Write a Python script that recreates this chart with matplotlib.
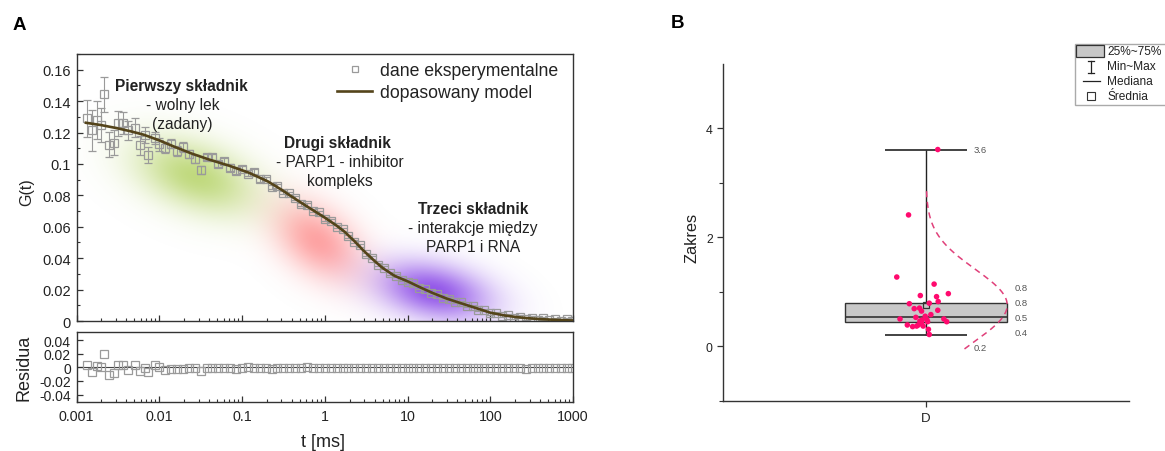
import numpy as np
import matplotlib
matplotlib.use("Agg")
import matplotlib.pyplot as plt
from matplotlib.patches import Rectangle
from matplotlib.lines import Line2D
from matplotlib.ticker import FixedLocator, FuncFormatter, LogLocator, NullFormatter, MultipleLocator

# ------------------------------------------------------------------ data A
t_data = [0.00133, 0.00155, 0.00179, 0.00198, 0.00217, 0.00247, 0.00286, 0.0032,
          0.00362, 0.00423, 0.0051, 0.00586, 0.00673, 0.00738, 0.0089, 0.0100,
          0.0118, 0.0139, 0.0164, 0.0193, 0.0228, 0.0268, 0.0316, 0.0373, 0.0439,
          0.0518, 0.0611, 0.072, 0.0848,
          0.1, 0.118, 0.139, 0.164, 0.193, 0.228, 0.268, 0.316, 0.373, 0.439,
          0.518, 0.611, 0.72, 0.848,
          1.0, 1.18, 1.39, 1.64, 1.93, 2.28, 2.68, 3.16, 3.73, 4.39, 5.18, 6.11,
          7.2, 8.48,
          10, 11.8, 13.9, 16.4, 19.3, 22.8, 26.8, 31.6, 37.3, 43.9, 51.8, 61.1,
          72, 84.8,
          100, 118, 139, 164, 193, 228, 268, 316, 373, 439, 518, 611, 720, 848,
          970]
G_data = [0.1290, 0.1215, 0.1280, 0.1247, 0.1443, 0.1123, 0.1135, 0.1258,
          0.1258, 0.1215, 0.1230, 0.1120, 0.1185, 0.1057, 0.1166, 0.1125,
          0.1104, 0.1129, 0.1083, 0.1108, 0.1063, 0.1030, 0.0960, 0.1044, 0.1042,
          0.1000, 0.1019, 0.0977, 0.0953,
          0.0970, 0.0936, 0.0950, 0.0902, 0.0905, 0.0854, 0.0862, 0.0818, 0.0812,
          0.0783, 0.0744, 0.0739, 0.0701, 0.0692,
          0.0649, 0.0638, 0.0600, 0.0583, 0.0540, 0.0505, 0.0481, 0.0425, 0.0402,
          0.0359, 0.0338, 0.0303, 0.0289, 0.0264,
          0.0248, 0.0240, 0.0212, 0.0204, 0.0177, 0.0172, 0.0147, 0.0143, 0.0121,
          0.0119, 0.0097, 0.0094, 0.0073, 0.0070,
          0.0048, 0.0051, 0.0034, 0.0037, 0.0022, 0.0028, 0.0014, 0.0021, 0.0008,
          0.0016, 0.0004, 0.0012, 0.0002, 0.0010,
          0.0003]
G_err = [0.012, 0.013, 0.012, 0.011, 0.011, 0.008, 0.008, 0.008,
         0.007, 0.006, 0.006, 0.006, 0.005, 0.005, 0.004, 0.004,
         0.0035, 0.003, 0.003, 0.003, 0.0025, 0.0025, 0.0025, 0.002, 0.002,
         0.002, 0.002, 0.002, 0.0018,
         0.0015, 0.0015, 0.0015, 0.0015, 0.0015, 0.0012, 0.0012, 0.0012, 0.0012,
         0.0012, 0.001, 0.001, 0.001, 0.001,
         0.001, 0.001, 0.001, 0.001, 0.001, 0.001, 0.001, 0.001, 0.001,
         0.001, 0.001, 0.001, 0.001, 0.001,
         0.0008, 0.0008, 0.0008, 0.0008, 0.0008, 0.0008, 0.0008, 0.0008, 0.0008,
         0.0008, 0.0008, 0.0008, 0.0008, 0.0008,
         0.0008, 0.0008, 0.0008, 0.0008, 0.0008, 0.0008, 0.0008, 0.0008, 0.0008,
         0.0008, 0.0008, 0.0008, 0.0008, 0.0008,
         0.0008]
resid = [0.0035, -0.0065, 0.0025, 0.0, 0.020, -0.0115, -0.0085, 0.004,
         0.004, -0.0035, 0.0035, -0.005, -0.0015, -0.0075, 0.004, 0.0,
         -0.0035, -0.002, -0.002, -0.003, -0.0015, -0.001, -0.005, -0.0015, -0.001,
         -0.0015, -0.0005, -0.001, -0.002,
         -0.0005, 0.0, -0.0005, -0.001, -0.0015, -0.002, -0.0015, -0.001, -0.0005,
         -0.001, -0.0005, 0.0, -0.0005, -0.001,
         -0.0005, -0.001, -0.0005, -0.001, -0.0005, -0.0005, -0.001, -0.0005, -0.0005,
         -0.001, -0.0005, -0.0005, -0.001, -0.0005,
         -0.001, -0.0005, -0.001, -0.0005, -0.0005, -0.001, -0.0005, -0.0005, -0.0005,
         -0.001, -0.0005, -0.0005, -0.0005, -0.001,
         -0.0005, -0.001, -0.0005, -0.0005, -0.001, -0.0005, -0.003, -0.001, -0.0005,
         -0.0005, -0.0005, -0.0005, -0.001, -0.0005,
         -0.0005]
t_fit = [0.0013, 0.002, 0.003, 0.0045, 0.0065, 0.01, 0.015, 0.0244, 0.04, 0.0708,
         0.12, 0.205, 0.3, 0.388, 0.6, 1.01, 1.4, 1.72, 2.3, 2.93, 4, 5, 7, 10,
         14, 20, 30, 42, 65, 100, 150, 207, 300, 436, 700, 1000]
G_fit = [0.1262, 0.1247, 0.1229, 0.1208, 0.1186, 0.1150, 0.1111, 0.1067, 0.1028,
         0.0988, 0.0945, 0.0889, 0.0836, 0.0796, 0.0732, 0.0657, 0.0606, 0.0570,
         0.0507, 0.0449, 0.0382, 0.0338, 0.0287, 0.0253, 0.0216, 0.0179, 0.0142,
         0.0117, 0.0085, 0.0053, 0.0035, 0.0025, 0.0017, 0.0011, 0.0006, 0.0003]

x_ticks_A = [0.001, 0.01, 0.1, 1, 10, 100, 1000]
legend_A = ["dane eksperymentalne", "dopasowany model"]
# annotation texts: (t, G, text, bold)
notes_A = [(0.0184, 0.150, "Pierwszy składnik", True),
           (0.019, 0.138, "- wolny lek", False),
           (0.019, 0.1255, "(zadany)", False),
           (1.41, 0.1138, "Drugi składnik", True),
           (1.5, 0.1017, "- PARP1 - inhibitor", False),
           (1.5, 0.0895, "kompleks", False),
           (62, 0.0716, "Trzeci składnik", True),
           (62, 0.0595, "- interakcje między", False),
           (62, 0.0473, "PARP1 i RNA", False)]
# coloured highlight blobs: (t, G) centre
blob_t = [0.027, 0.80, 20]
blob_G = [0.092, 0.051, 0.019]

# ------------------------------------------------------------------ data B
category_B = ["D"]
zakres_x = [1.029, 0.957, 0.928, 1.020, 1.055, 0.986, 1.026, 1.030, 0.959, 1.008,
            0.984, 0.971, 0.989, 1.029, 0.936, 1.044, 1.051, 1.002, 0.985, 0.989,
            0.981, 0.993, 0.977, 0.967, 0.954, 1.004, 1.006, 1.008, 0.998, 0.975,
            0.990, 1.012]
zakres_y = [3.61, 2.41, 1.27, 1.14, 0.965, 0.93, 0.91, 0.82, 0.78, 0.79,
            0.70, 0.69, 0.645, 0.66, 0.50, 0.50, 0.45, 0.49, 0.46, 0.42,
            0.39, 0.37, 0.37, 0.36, 0.39, 0.45, 0.31, 0.215, 0.55, 0.53,
            0.48, 0.58]
legend_B = ["25%~75%", "Min~Max", "Mediana", "Średnia"]

# ------------------------------------------------------------------ style
plt.rcParams['font.family'] = ['Liberation Sans', 'DejaVu Sans']
plt.rcParams['axes.unicode_minus'] = False

W, H = 1165, 452
fig = plt.figure(figsize=(W / 100, H / 100), dpi=100)


def rect(l, t, r, b):
    return [l / W, 1 - b / H, (r - l) / W, (b - t) / H]


AX_COL = '#333333'
SQ_COL = '#9a9a9a'
FIT_COL = '#54441a'
TXT_COL = '#222222'
MS = 5.6

# ------------------------------------------------------------------ panel A main
ax_bg = fig.add_axes(rect(76.5, 55, 573, 322), zorder=0)
ax = fig.add_axes(rect(76.5, 55, 573, 322), zorder=1)
ax.patch.set_visible(False)
ax.set_xscale('log')
ax.set_xlim(1e-3, 1e3)
ax.set_ylim(0, 0.17)

# soft coloured blobs (drawn as an image behind the axes)
bb = ax.get_window_extent()
nx, ny = int(round(bb.width)), int(round(bb.height))
X, Y = np.meshgrid(np.arange(nx) + 0.5 + bb.x0, np.arange(ny) + 0.5 + bb.y0)
blob_style = [((0.66, 0.80, 0.30), 0.72, 44, 23, -20),
              ((1.00, 0.42, 0.42), 0.62, 34, 22, -38),
              ((0.50, 0.22, 0.90), 0.85, 40, 19, -12)]
num = np.zeros((ny, nx, 3))
den = np.zeros((ny, nx))
keep = np.ones((ny, nx))
for (bt, bg), (col, peak, su, sv, ang) in zip(zip(blob_t, blob_G), blob_style):
    cx, cy = ax.transData.transform((bt, bg))
    th = np.deg2rad(ang)
    dx, dy = X - cx, Y - cy
    u = dx * np.cos(th) + dy * np.sin(th)
    v = -dx * np.sin(th) + dy * np.cos(th)
    a = peak * np.exp(-0.5 * ((u / su) ** 2 + (v / sv) ** 2))
    num += a[..., None] * np.array(col)
    den += a
    keep *= (1 - a)
img = np.ones((ny, nx, 4))
img[..., :3] = np.where(den[..., None] > 1e-9, num / np.maximum(den, 1e-9)[..., None], 1)
img[..., 3] = 1 - keep
ax_bg.imshow(img, extent=(0, 1, 0, 1), origin='lower', aspect='auto', interpolation='bilinear')
ax_bg.set_xlim(0, 1)
ax_bg.set_ylim(0, 1)
ax_bg.axis('off')

ax.errorbar(t_data, G_data, yerr=G_err, fmt='s', mfc='none', mec=SQ_COL, mew=0.9, ms=MS,
            ecolor=SQ_COL, elinewidth=0.8, capsize=2.8, capthick=0.8, zorder=2)
ax.plot(t_fit, G_fit, color=FIT_COL, lw=1.9, zorder=3)

ax.yaxis.set_major_locator(MultipleLocator(0.02))
ax.yaxis.set_minor_locator(MultipleLocator(0.01))
ax.yaxis.set_major_formatter(FuncFormatter(lambda v, p: '%g' % round(v, 4)))
ax.xaxis.set_major_locator(FixedLocator(x_ticks_A))
ax.xaxis.set_minor_locator(LogLocator(base=10, subs=np.arange(2, 10)))
ax.xaxis.set_minor_formatter(NullFormatter())
ax.tick_params(axis='both', which='both', direction='in', colors=AX_COL, labelcolor=TXT_COL)
ax.tick_params(axis='both', which='major', length=4, width=0.9)
ax.tick_params(axis='both', which='minor', length=2.3, width=0.8)
ax.tick_params(axis='x', labelbottom=False)
ax.tick_params(axis='y', labelsize=10.5, pad=4)
for s in ax.spines.values():
    s.set_color(AX_COL)
    s.set_linewidth(1.0)

for tt, gg, txt, bold in notes_A:
    ax.text(tt, gg, txt, ha='center', va='center', fontsize=11.2,
            fontweight='bold' if bold else 'normal', color=TXT_COL, zorder=5)

h_sq = Line2D([], [], ls='none', marker='s', mfc='none', mec=SQ_COL, mew=0.9, ms=5)
h_fit = Line2D([], [], color=FIT_COL, lw=1.9)
ax.legend([h_sq, h_fit], legend_A, loc='upper left', bbox_to_anchor=(337 / W, 1 - 63 / H),
          bbox_transform=fig.transFigure, frameon=False, fontsize=12.7, handlelength=2.0,
          handletextpad=0.45, labelspacing=0.3, borderpad=0, borderaxespad=0,
          labelcolor=TXT_COL)

# ------------------------------------------------------------------ panel A residuals
axr = fig.add_axes(rect(76.5, 333, 573, 403), sharex=ax)
axr.axhline(0, color='#444444', lw=0.8, zorder=1)
axr.plot(t_data, resid, ls='none', marker='s', mfc='none', mec=SQ_COL, mew=0.9, ms=MS, zorder=2)
axr.set_ylim(-0.051, 0.052)
axr.yaxis.set_major_locator(FixedLocator([-0.04, -0.02, 0, 0.02, 0.04]))
axr.yaxis.set_major_formatter(FuncFormatter(lambda v, p: '%g' % round(v, 4)))
axr.xaxis.set_major_formatter(FuncFormatter(lambda v, p: '%g' % v))
axr.xaxis.set_minor_formatter(NullFormatter())
axr.tick_params(axis='both', which='both', direction='in', colors=AX_COL, labelcolor=TXT_COL)
axr.tick_params(axis='both', which='major', length=4, width=0.9)
axr.tick_params(axis='both', which='minor', length=2.3, width=0.8)
axr.tick_params(axis='y', labelsize=10, pad=4)
axr.tick_params(axis='x', labelsize=10.3, pad=5)
for s in axr.spines.values():
    s.set_color(AX_COL)
    s.set_linewidth(1.0)

fig.text(27 / W, 1 - 192 / H, 'G(t)', rotation=90, ha='center', va='center', fontsize=11.5, color=TXT_COL)
fig.text(24 / W, 1 - 368 / H, 'Residua', rotation=90, ha='center', va='center', fontsize=13, color=TXT_COL)
fig.text(323 / W, 1 - 443 / H, 't [ms]', ha='center', va='center', fontsize=13, color=TXT_COL)
fig.text(19 / W, 1 - 25 / H, 'A', ha='center', va='center', fontsize=13.5, fontweight='bold')
fig.text(678 / W, 1 - 24 / H, 'B', ha='center', va='center', fontsize=13.5, fontweight='bold')

# ------------------------------------------------------------------ panel B
axb = fig.add_axes(rect(723, 65, 1129, 401.7))
axb.set_xlim(0.5, 1.5)
axb.set_ylim(-1.0, 5.18)
yv = np.array(zakres_y)
q1, med, q3 = np.percentile(yv, [25, 50, 75])
ymin, ymax, ymean, ysd = yv.min(), yv.max(), yv.mean(), yv.std(ddof=1)

axb.vlines(1, q3, ymax, color='#222222', lw=1.0, zorder=1)
axb.vlines(1, ymin, q1, color='#222222', lw=1.0, zorder=1)
axb.hlines([ymin, ymax], 0.9, 1.1, color='#222222', lw=1.2, zorder=1)
axb.add_patch(Rectangle((0.8, q1), 0.4, q3 - q1, fc='#c8c8c8', ec='#333333', lw=1.0, zorder=2))
axb.hlines(med, 0.8, 1.2, color='#333333', lw=1.2, zorder=2)
axb.plot([1], [ymean], ls='none', marker='s', ms=5, mfc='none', mec='#333333', mew=0.9, zorder=3)

yc = np.linspace(-0.05, 2.9, 200)
dens = np.exp(-0.5 * ((yc - ymean) / ysd) ** 2)
axb.plot(1 + 0.2 * dens, yc, color='#e0407a', lw=1.1, dashes=(4, 3), zorder=3)

axb.scatter(zakres_x, zakres_y, s=16, color='#ff0a6e', edgecolors='none', zorder=4)

lab_kw = dict(fontsize=6.8, color='#555555', va='center', ha='left')
axb.text(1.118, ymax, '%.1f' % ymax, **lab_kw)
axb.text(1.218, 1.086, '%.1f' % ymean, **lab_kw)
axb.text(1.218, 0.81, '%.1f' % q3, **lab_kw)
axb.text(1.218, 0.52, '%.1f' % med, **lab_kw)
axb.text(1.218, 0.245, '%.1f' % q1, **lab_kw)
axb.text(1.118, -0.03, '%.1f' % ymin, **lab_kw)

axb.spines['top'].set_visible(False)
axb.spines['right'].set_visible(False)
for s in ('left', 'bottom'):
    axb.spines[s].set_color(AX_COL)
    axb.spines[s].set_linewidth(1.0)
axb.yaxis.set_major_locator(FixedLocator([0, 2, 4]))
axb.yaxis.set_minor_locator(FixedLocator([-1, 1, 3]))
axb.set_xticks([1])
axb.set_xticklabels(category_B)
axb.tick_params(axis='both', which='both', direction='out', colors=AX_COL, labelcolor=TXT_COL)
axb.tick_params(axis='both', which='major', length=4.3, width=0.9)
axb.tick_params(axis='both', which='minor', length=3, width=0.8)
axb.tick_params(axis='y', labelsize=8.8, pad=3)
axb.tick_params(axis='x', labelsize=9.5, pad=4)
fig.text(692 / W, 1 - 238 / H, 'Zakres', rotation=90, ha='center', va='center', fontsize=11.8, color=TXT_COL)

# legend B (drawn in pixel coordinates)
axl = fig.add_axes(rect(1074, 44, 1165, 106))
axl.set_xlim(1074, 1165)
axl.set_ylim(106, 44)
axl.axis('off')
axl.add_patch(Rectangle((1074.5, 44.5), 95, 61, fc='white', ec='#aaaaaa', lw=1.0, clip_on=False))
axl.add_patch(Rectangle((1076, 46), 27.5, 12, fc='#c8c8c8', ec='#333333', lw=0.9))
axl.plot([1091, 1091], [61.5, 73.5], color='#222222', lw=0.9)
axl.plot([1088, 1094], [61.5, 61.5], color='#222222', lw=0.9)
axl.plot([1088, 1094], [73.5, 73.5], color='#222222', lw=0.9)
axl.plot([1083, 1100], [81.7, 81.7], color='#222222', lw=0.9)
axl.plot([1091], [97.3], ls='none', marker='s', ms=5.5, mfc='none', mec='#333333', mew=0.8)
for yy, txt in zip([51.7, 66.7, 81.7, 97.3], legend_B):
    axl.text(1107, yy, txt, fontsize=8.6, va='center', ha='left', color=TXT_COL)

fig.savefig('out.png', dpi=100)
